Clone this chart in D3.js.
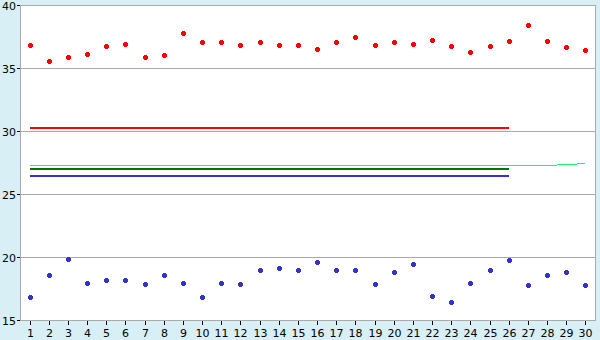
<!DOCTYPE html>
<html lang="en">
<head>
    <meta charset="UTF-8">
    <title>Chart</title>
    <script src="https://d3js.org/d3.v7.min.js" charset="utf-8"></script>
    <style>
        body { margin: 0; background: #d9eff6; }
        text { font-family: "DejaVu Sans", Verdana, sans-serif; font-size: 11px; fill: #000; }
    </style>
</head>
<body>
<script>
    // data
    var days = d3.range(1, 31);
    var yTicks = [15, 20, 25, 30, 35, 40];
    var highs = [36.85, 35.56, 35.87, 36.13, 36.75, 36.9, 35.87, 36.03, 37.78, 37.06,
                 37.06, 36.83, 37.06, 36.83, 36.83, 36.51, 37.06, 37.46, 36.83, 37.06,
                 36.9, 37.22, 36.75, 36.27, 36.75, 37.14, 38.41, 37.14, 36.67, 36.43];
    var lows = [16.83, 18.57, 19.84, 17.94, 18.17, 18.17, 17.86, 18.57, 17.94, 16.83,
                17.94, 17.86, 18.97, 19.13, 18.97, 19.6, 18.97, 18.97, 17.86, 18.81,
                19.44, 16.9, 16.43, 17.94, 18.97, 19.76, 17.78, 18.57, 18.81, 17.78];
    // flat reference lines (days 1-26)
    var redLevel = 30.3, greenLevel = 27.05, blueLevel = 26.5;
    // running line over all 30 days
    var runLine = [27.3, 27.3, 27.3, 27.3, 27.3, 27.3, 27.3, 27.3, 27.3, 27.3,
                   27.3, 27.3, 27.3, 27.3, 27.3, 27.3, 27.3, 27.3, 27.3, 27.3,
                   27.3, 27.3, 27.3, 27.3, 27.3, 27.3, 27.3, 27.3, 27.38, 27.45];

    var width = 600, height = 340;
    var pLeft = 20, pRight = 595, pTop = 5, pBottom = 320;

    var x = d3.scalePoint().domain(days).range([pLeft, pRight]).padding(0.5);
    var y = d3.scaleLinear().domain([15, 40]).range([pBottom + 0.5, pTop + 0.5]);

    var svg = d3.select("body").append("svg")
        .attr("width", width)
        .attr("height", height)
        .style("display", "block")
        .attr("shape-rendering", "crispEdges");

    // plot area
    svg.append("rect")
        .attr("x", pLeft).attr("y", pTop)
        .attr("width", pRight - pLeft).attr("height", pBottom - pTop)
        .attr("fill", "#fff");

    function snap(v) { return Math.round(v - 0.5) + 0.5; }

    // grid lines
    svg.selectAll("line.grid").data(yTicks.slice(1, -1)).enter()
        .append("line")
        .attr("x1", pLeft).attr("x2", pRight)
        .attr("y1", function(d) { return snap(y(d)); })
        .attr("y2", function(d) { return snap(y(d)); })
        .attr("stroke", "#aaa");

    // border and axes
    svg.append("path")
        .attr("d", "M" + (pLeft + 0.5) + "," + (pBottom + 0.5) + "V" + (pTop + 0.5) + "H" + (pRight + 0.5) + "V" + (pBottom + 0.5) + "H" + (pLeft + 0.5))
        .attr("fill", "none")
        .attr("stroke", "#aaa");

    // y axis ticks + labels
    var yAxis = svg.append("g");
    yAxis.selectAll("line").data(yTicks).enter().append("line")
        .attr("x1", pLeft - 3).attr("x2", pLeft)
        .attr("y1", function(d) { return snap(y(d)); })
        .attr("y2", function(d) { return snap(y(d)); })
        .attr("stroke", "#000");
    yAxis.selectAll("text").data(yTicks).enter().append("text")
        .attr("x", pLeft - 4)
        .attr("y", function(d) { return y(d) + 4; })
        .attr("text-anchor", "end")
        .text(function(d) { return d; });

    // x axis ticks + labels
    var xAxis = svg.append("g");
    xAxis.selectAll("line").data(days).enter().append("line")
        .attr("x1", function(d) { return Math.round(x(d)) + 0.5; })
        .attr("x2", function(d) { return Math.round(x(d)) + 0.5; })
        .attr("y1", pBottom + 1).attr("y2", pBottom + 5)
        .attr("stroke", "#000");
    xAxis.selectAll("text").data(days).enter().append("text")
        .attr("x", function(d) { return Math.round(x(d)) + 0.5; })
        .attr("y", pBottom + 17)
        .attr("text-anchor", "middle")
        .text(function(d) { return d; });

    // lines
    var line = d3.line()
        .x(function(d, i) { return x(days[i]); })
        .y(function(d) { return y(d); });

    var first26 = days.slice(0, 26);
    svg.append("path")
        .datum(runLine)
        .attr("d", line)
        .attr("fill", "none")
        .attr("stroke", "#22ee77")
        .attr("stroke-width", 1);
    [[redLevel, "#ff0000"], [greenLevel, "#007700"], [blueLevel, "#3333cc"]].forEach(function(l) {
        svg.append("path")
            .datum(first26.map(function() { return l[0]; }))
            .attr("d", line)
            .attr("fill", "none")
            .attr("stroke", l[1])
            .attr("stroke-width", 2);
    });

    // markers
    var marker = "M-1.5,-2.5h3v1h1v3h-1v1h-3v-1h-1v-3h1z";
    function dots(values, color) {
        svg.append("g").selectAll("path").data(values).enter()
            .append("path")
            .attr("d", marker)
            .attr("transform", function(d, i) {
                return "translate(" + (Math.round(x(days[i])) + 0.5) + "," + snap(y(d)) + ")";
            })
            .attr("fill", color);
    }
    dots(highs, "#ff0000");
    dots(lows, "#3333cc");
</script>
</body>
</html>
